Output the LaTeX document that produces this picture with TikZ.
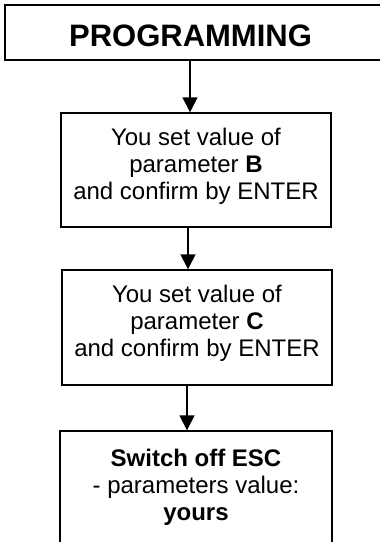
\documentclass[tikz,border=0pt]{standalone}
\usepackage{fontspec}
\setmainfont{Liberation Sans}
\usetikzlibrary{arrows.meta}
\tikzset{
  boxnode/.style={draw=black, line width=1.4pt, rectangle, align=center,
    font=\fontsize{24}{27}\selectfont, inner sep=0pt},
  arr/.style={draw=black, line width=1.4pt, -{Triangle[width=15pt,length=15pt]}},
}
\begin{document}
\begin{tikzpicture}[x=1pt,y=-1pt]
\useasboundingbox (0,0) rectangle (380,542);
\clip (0,0) rectangle (380,542);
\fill[white] (0,0) rectangle (380,542);
\node[boxnode, line width=2.2pt, minimum width=395pt, minimum height=55pt] (top) at (202.5,32.5) {};
\node[font=\fontsize{31}{31}\selectfont\bfseries, inner sep=0pt] (title) at (190.5,36) {PROGRAMMING};
\node[boxnode, minimum width=270pt, minimum height=114pt] (b) at (196,170)
  {You set value of\\ parameter \textbf{B}\\ and confirm by ENTER\\[-23pt]\strut};
\node[boxnode, minimum width=270pt, minimum height=115pt] (c) at (197,327.5)
  {You set value of\\ parameter \textbf{C}\\ and confirm by ENTER\\[-22pt]\strut};
\node[boxnode, minimum width=272pt, minimum height=150pt] (d) at (196,506)
  {\textbf{Switch off ESC}\\ - parameters value:\\ \textbf{yours}\\[7pt]\strut};
\draw[arr] ([xshift=-6pt]b.north |- top.south) -- ([xshift=-6pt]b.north);
\draw[arr] ([xshift=-9pt]c.north |- b.south) -- ([xshift=-9pt]c.north);
\draw[arr] ([xshift=-9pt]d.north |- c.south) -- ([xshift=-9pt]d.north);
\end{tikzpicture}
\end{document}
